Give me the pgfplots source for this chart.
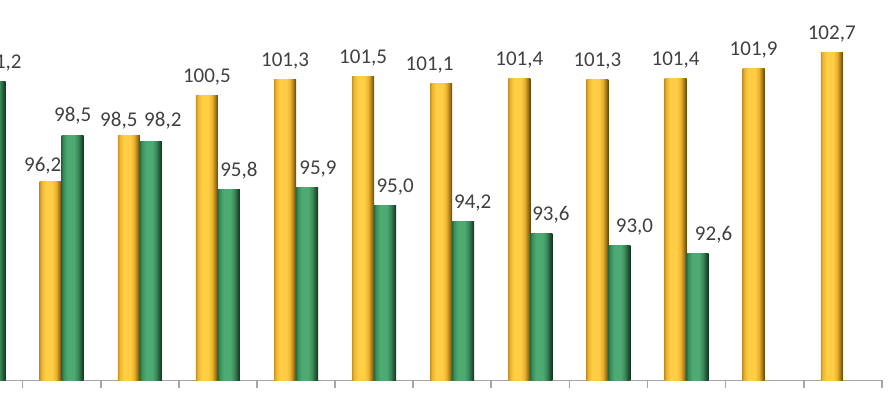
\documentclass[border=0pt]{standalone}
\usepackage{fontspec}
\setmainfont{Carlito}
\usepackage{pgfplots}
\pgfplotsset{compat=1.18}
\definecolor{yl0}{HTML}{C99526}
\definecolor{ylA}{HTML}{EDB431}
\definecolor{ylB}{HTML}{FFCE45}
\definecolor{ylC}{HTML}{EBB02E}
\definecolor{ylD}{HTML}{A57A1A}
\definecolor{ylE}{HTML}{5E430C}
\definecolor{gr0}{HTML}{2A6E43}
\definecolor{grA}{HTML}{3A8F5A}
\definecolor{grB}{HTML}{4DAA73}
\definecolor{grC}{HTML}{3A8A58}
\definecolor{grD}{HTML}{24583A}
\definecolor{grE}{HTML}{13301D}
\pgfdeclarehorizontalshading{ybarshade}{100bp}{color(0bp)=(yl0); color(25bp)=(yl0); color(29bp)=(ylA); color(38bp)=(ylB); color(53bp)=(ylB); color(62bp)=(ylC); color(69bp)=(ylD); color(75bp)=(ylE); color(100bp)=(ylE)}
\pgfdeclarehorizontalshading{gbarshade}{100bp}{color(0bp)=(gr0); color(25bp)=(gr0); color(29bp)=(grA); color(38bp)=(grB); color(53bp)=(grB); color(62bp)=(grC); color(69bp)=(grD); color(75bp)=(grE); color(100bp)=(grE)}
\definecolor{axgray}{HTML}{A6A6A6}
\definecolor{lbl}{HTML}{404040}
\begin{document}
\begin{tikzpicture}[x=1pt,y=1pt]
\useasboundingbox (0,-9.75) rectangle (445,190.25);
\begin{scope}
\clip (0,-9.75) rectangle (445,190.25);
\begin{axis}[
  at={(-19.9pt,0)}, anchor=south west,
  scale only axis, width=460.8pt, height=190.25pt,
  xmin=-0.3, xmax=11.5, ymin=86.2, ymax=105.32,
  ybar, bar width=11pt,
  axis x line*=bottom, axis y line=none,
  xtick={0.5,1.5,...,11.5}, xticklabels={},
  major tick length=4pt, tick align=outside,
  x axis line style={color=axgray, line width=0.8pt},
  xtick style={color=axgray, line width=0.8pt},
  nodes near coords,
  every node near coord/.append style={font=\fontsize{10.5}{12}\selectfont, text=lbl, anchor=base, inner sep=0pt, yshift=6.5pt},
  Y/.style={draw=none, shading=ybarshade, bar shift=-5.5pt},
  G/.style={draw=none, shading=gbarshade, bar shift=5.5pt},
  lx/.style={every node near coord/.append style={xshift=#1}},
  ly/.style={every node near coord/.append style={yshift=#1}},
  /pgf/number format/.cd, use comma, fixed, fixed zerofill, precision=1, assume math mode=true,
]
% yellow series
\addplot[Y, lx=-4pt, ly=-1.5pt] coordinates {(1,96.2)};
\addplot[Y, lx=-5pt, ly=-1.9pt] coordinates {(2,98.5)};
\addplot[Y] coordinates {(3,100.5)};
\addplot[Y] coordinates {(4,101.3)};
\addplot[Y] coordinates {(5,101.5)};
\addplot[Y, lx=-5.8pt] coordinates {(6,101.1)};
\addplot[Y] coordinates {(7,101.4)};
\addplot[Y] coordinates {(8,101.3)};
\addplot[Y] coordinates {(9,101.4)};
\addplot[Y] coordinates {(10,101.9)};
\addplot[Y] coordinates {(11,102.7)};
% green series
\addplot[G, lx=1.5pt] coordinates {(0,101.2)};
\addplot[G, ly=0.5pt] coordinates {(1,98.5)};
\addplot[G, lx=6pt, ly=1pt] coordinates {(2,98.2)};
\addplot[G, lx=5pt] coordinates {(3,95.8)};
\addplot[G, lx=5.5pt] coordinates {(4,95.9)};
\addplot[G, lx=5pt] coordinates {(5,95.0)};
\addplot[G, lx=4.75pt] coordinates {(6,94.2)};
\addplot[G, lx=4.75pt] coordinates {(7,93.6)};
\addplot[G, lx=7.5pt] coordinates {(8,93.0)};
\addplot[G, lx=8pt] coordinates {(9,92.6)};
\end{axis}
\end{scope}
\end{tikzpicture}
\end{document}
